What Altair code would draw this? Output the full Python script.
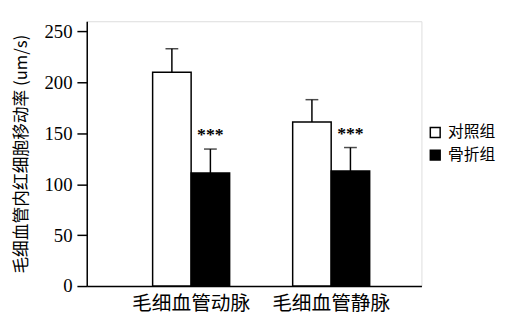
import altair as alt
import pandas as pd

categories = ["毛细血管动脉", "毛细血管静脉"]
groups = ["对照组", "骨折组"]
control_mean = [210, 161]
control_err = [23, 22]
fracture_mean = [111, 113]
fracture_err = [23.5, 23]
fracture_sig = ["***", "***"]

rows = []
for i, c in enumerate(categories):
    rows.append({"cat": c, "group": groups[0], "mean": control_mean[i],
                 "top": control_mean[i] + control_err[i], "sig": ""})
    rows.append({"cat": c, "group": groups[1], "mean": fracture_mean[i],
                 "top": fracture_mean[i] + fracture_err[i], "sig": fracture_sig[i]})
df = pd.DataFrame(rows)

CJK = "Noto Sans CJK SC"
SERIF = "Liberation Serif"

x = alt.X("cat:N", sort=categories, title=None,
          scale=alt.Scale(paddingInner=0.45, paddingOuter=0.42, align=0.56),
          axis=alt.Axis(labelAngle=0, ticks=False, labelFont=CJK, labelFontSize=20,
                        labelColor="black", labelPadding=8, domainColor="black",
                        domainWidth=1.5))
xo = alt.XOffset("group:N", sort=groups)

base = alt.Chart(df)

bars = base.mark_bar(stroke="black", strokeWidth=1.5).encode(
    x=x, xOffset=xo,
    y=alt.Y("mean:Q", title="毛细血管内红细胞移动率 (um/s)",
            scale=alt.Scale(domain=[0, 250]),
            axis=alt.Axis(values=[0, 50, 100, 150, 200, 250], grid=False,
                          tickSize=10, tickWidth=1.5, tickColor="black",
                          domainColor="black", domainWidth=1.5,
                          labelFont=SERIF, labelFontSize=19, labelColor="black",
                          labelPadding=5, titleFont=CJK, titleFontSize=17,
                          titleFontWeight="normal", titleColor="black",
                          titlePadding=14)),
    fill=alt.Fill("group:N", sort=groups, title=None,
                  scale=alt.Scale(domain=groups, range=["white", "black"]),
                  legend=alt.Legend(orient="none", legendX=346, legendY=105,
                                    symbolType="square", symbolSize=100,
                                    symbolStrokeColor="black", symbolStrokeWidth=1.5,
                                    labelFont=CJK, labelFontSize=16, labelColor="black",
                                    rowPadding=7, labelOffset=5)),
)

err = base.mark_rule(color="black", strokeWidth=1.5).encode(
    x=x, xOffset=xo, y="mean:Q", y2="top:Q")

cap = base.mark_tick(color="black", thickness=1.5, size=13, orient="horizontal").encode(
    x=x, xOffset=xo, y="top:Q")

stars = base.mark_text(font=SERIF, fontSize=18, fontWeight="bold", baseline="middle",
                       dy=-14, color="black").encode(
    x=x, xOffset=xo, y="top:Q", text="sig:N")

chart = (bars + err + cap + stars).properties(
    width=340, height=269,
    autosize=alt.AutoSizeParams(type="none"),
    padding={"left": 80, "top": 11, "right": 93, "bottom": 30},
).configure_view(stroke="black", strokeWidth=1.5).configure(background="white")

chart.save("out.html", embed_options={"renderer": "svg", "actions": False})
